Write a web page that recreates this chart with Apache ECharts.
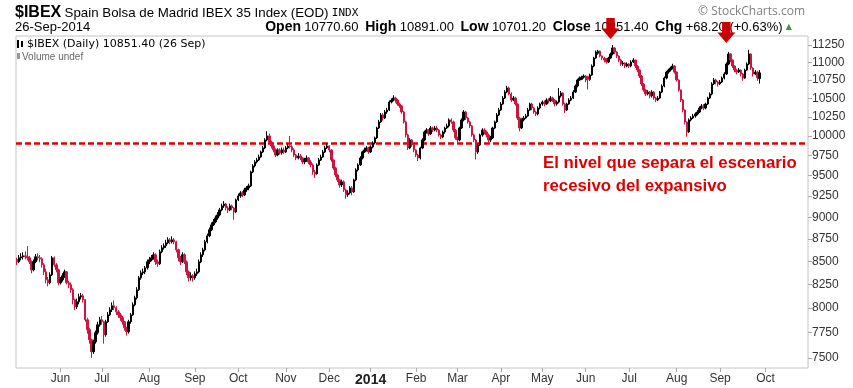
<!DOCTYPE html>
<html><head><meta charset="utf-8">
<script src="https://cdn.jsdelivr.net/npm/echarts@6/dist/echarts.min.js"></script>
<style>html,body{margin:0;padding:0;background:#fff}#c{width:853px;height:388px}</style>
</head><body><div id="c"></div>
<script>
// ---- axis / category definition ----
const startDate = '2013-05-03';
const endDate = '2014-10-29';
const holidays = ['2013-12-25','2013-12-26','2014-01-01','2014-04-18','2014-04-21','2014-05-01'];
const yTicks = [7500,7750,8000,8250,8500,8750,9000,9250,9500,9750,10000,10250,10500,10750,11000,11250];
const monthNames = ['Jan','Feb','Mar','Apr','May','Jun','Jul','Aug','Sep','Oct','Nov','Dec'];

// ---- daily OHLC ----
const opens = [
8520,8495,8539,8550,8561,8550,8539,8495,8407,8495,
8550,8539,8528,8462,8385,8299,8267,8353,8539,8462,
8407,8267,8299,8342,8385,8267,8246,8192,8087,8014,
8066,8118,8129,8087,7880,7779,7679,7561,7659,7749,
7829,7880,7860,7729,7860,7931,7983,8025,8004,7962,
7931,7901,7860,7799,7759,7860,7931,8035,8108,8192,
8320,8374,8385,8429,8495,8517,8539,8572,8495,8473,
8606,8650,8673,8706,8740,8718,8740,8718,8628,8539,
8495,8572,8495,8385,8320,8342,8320,8364,8385,8495,
8572,8628,8718,8785,8854,8911,8946,8992,9027,9086,
9133,9156,9109,9086,9133,9109,9062,9204,9252,9288,
9264,9324,9348,9373,9544,9619,9668,9693,9731,9794,
9845,9948,10000,9922,9871,9820,9756,9820,9782,9820,
9794,9845,9871,9860,9820,9756,9718,9744,9718,9668,
9693,9718,9668,9631,9544,9520,9631,9693,9731,9794,
9845,9871,9820,9693,9594,9507,9446,9385,9422,9324,
9264,9288,9348,9300,9446,9569,9631,9718,9794,9820,
9845,9794,9858,9910,9974,10103,10183,10275,10235,10315,
10341,10449,10476,10503,10476,10422,10395,10315,10183,10013,
9845,9948,9884,9820,9756,9718,9845,9948,10051,10077,
10026,10103,10077,10103,10077,10013,9987,10051,10103,10130,
10209,10183,10077,9974,9948,10103,10209,10315,10235,10183,
10130,10013,9948,9794,9884,10013,10077,10051,10013,9948,
9974,10103,10183,10275,10341,10422,10503,10585,10640,10558,
10476,10503,10422,10235,10103,10209,10235,10262,10341,10422,
10368,10315,10288,10368,10422,10449,10422,10476,10463,10503,
10476,10422,10449,10531,10572,10422,10341,10422,10476,10503,
10585,10668,10751,10760,10790,10807,10800,10760,10821,10948,
11062,11130,11160,11091,11062,11033,11005,11062,11119,11206,
11148,11091,11033,10976,10990,10948,10976,10948,11005,11033,
10948,10891,10807,10696,10613,10558,10585,10531,10585,10503,
10476,10503,10585,10668,10779,10863,10891,10919,10948,10863,
10751,10613,10476,10341,10183,10051,10209,10235,10262,10288,
10315,10368,10395,10368,10422,10503,10558,10696,10751,10723,
10696,10723,10779,10835,10976,11119,11033,10948,10891,10863,
10891,10835,10779,10891,10976,11119,10919,10835,10863,10770.6
];
const closes = [
8495,8539,8550,8561,8550,8539,8495,8407,8495,8550,
8539,8528,8462,8385,8299,8267,8353,8539,8462,8407,
8267,8299,8342,8385,8267,8246,8192,8087,8014,8066,
8118,8129,8087,7880,7779,7679,7561,7659,7749,7829,
7880,7860,7729,7860,7931,7983,8025,8004,7962,7931,
7901,7860,7799,7759,7860,7931,8035,8108,8192,8320,
8374,8385,8429,8495,8517,8539,8572,8495,8473,8606,
8650,8673,8706,8740,8718,8740,8718,8628,8539,8495,
8572,8495,8385,8320,8342,8320,8364,8385,8495,8572,
8628,8718,8785,8854,8911,8946,8992,9027,9086,9133,
9156,9109,9086,9133,9109,9062,9204,9252,9288,9264,
9324,9348,9373,9544,9619,9668,9693,9731,9794,9845,
9948,10000,9922,9871,9820,9756,9820,9782,9820,9794,
9845,9871,9860,9820,9756,9718,9744,9718,9668,9693,
9718,9668,9631,9544,9520,9631,9693,9731,9794,9845,
9871,9820,9693,9594,9507,9446,9385,9422,9324,9264,
9288,9348,9300,9446,9569,9631,9718,9794,9820,9845,
9794,9858,9910,9974,10103,10183,10275,10235,10315,10341,
10449,10476,10503,10476,10422,10395,10315,10183,10013,9845,
9948,9884,9820,9756,9718,9845,9948,10051,10077,10026,
10103,10077,10103,10077,10013,9987,10051,10103,10130,10209,
10183,10077,9974,9948,10103,10209,10315,10235,10183,10130,
10013,9948,9794,9884,10013,10077,10051,10013,9948,9974,
10103,10183,10275,10341,10422,10503,10585,10640,10558,10476,
10503,10422,10235,10103,10209,10235,10262,10341,10422,10368,
10315,10288,10368,10422,10449,10422,10476,10463,10503,10476,
10422,10449,10531,10572,10422,10341,10422,10476,10503,10585,
10668,10751,10779,10790,10807,10751,10760,10821,10948,11062,
11148,11160,11091,11062,11033,11005,11062,11119,11206,11148,
11091,11033,10976,10990,10948,10976,10948,11005,11033,10948,
10891,10807,10696,10613,10558,10585,10531,10585,10503,10476,
10503,10585,10668,10779,10863,10891,10919,10948,10863,10751,
10613,10476,10341,10183,10051,10209,10235,10262,10288,10315,
10368,10395,10368,10422,10503,10558,10696,10751,10723,10696,
10723,10779,10835,10976,11119,11033,10948,10891,10863,10891,
10835,10779,10891,10976,11119,10919,10835,10863,10783,10851.4
];
const lows = [
8460,8480,8510,8520,8520,8510,8470,8370,8390,8480,
8510,8490,8430,8350,8260,8230,8250,8340,8440,8380,
8240,8250,8280,8320,8250,8210,8160,8040,7980,7990,
8040,8090,8060,7860,7740,7640,7500,7540,7640,7730,
7810,7830,7640,7710,7850,7920,7960,7980,7930,7900,
7870,7830,7770,7720,7740,7840,7920,8020,8090,8180,
8300,8350,8360,8410,8470,8500,8520,8460,8440,8460,
8590,8630,8650,8690,8690,8700,8690,8600,8500,8460,
8480,8470,8350,8280,8290,8280,8300,8340,8370,8480,
8550,8610,8700,8770,8840,8900,8930,8970,9010,9070,
9110,9080,9050,9070,9080,8970,9050,9190,9230,9240,
9250,9300,9320,9360,9530,9600,9650,9680,9720,9780,
9830,9930,9900,9840,9790,9730,9740,9760,9760,9770,
9780,9830,9840,9790,9730,9690,9700,9690,9640,9640,
9670,9640,9600,9510,9470,9510,9620,9680,9720,9780,
9830,9790,9670,9570,9480,9420,9350,9360,9300,9220,
9240,9270,9260,9290,9430,9550,9620,9700,9780,9800,
9770,9780,9840,9890,9960,10090,10170,10200,10220,10290,
10330,10430,10460,10440,10400,10370,10290,10160,9980,9820,
9830,9860,9790,9730,9680,9700,9830,9930,10030,10000,
10010,10050,10060,10050,9990,9960,9970,10030,10090,10110,
10160,10050,9950,9910,9930,10090,10190,10210,10160,10100,
9990,9920,9700,9770,9870,9990,10020,9980,9900,9920,
9960,10090,10170,10260,10330,10410,10490,10570,10540,10450,
10460,10400,10210,10060,10090,10190,10220,10250,10330,10340,
10290,10260,10270,10350,10400,10390,10410,10430,10450,10450,
10390,10400,10430,10510,10400,10300,10330,10410,10460,10490,
10570,10650,10740,10750,10770,10720,10620,10740,10810,10930,
11050,11110,11070,11030,11000,10980,10990,11050,11100,11120,
11060,11000,10950,10950,10920,10930,10920,10930,10990,10920,
10860,10780,10670,10590,10530,10540,10500,10510,10480,10450,
10460,10490,10570,10650,10760,10840,10870,10900,10840,10730,
10590,10450,10310,10150,9990,10040,10190,10220,10240,10270,
10300,10350,10340,10350,10410,10490,10540,10680,10690,10660,
10680,10710,10760,10820,10960,11000,10920,10860,10830,10850,
10800,10740,10770,10880,10960,10890,10800,10820,10740,10701.2
];
const highs = [
8540,8570,8590,8600,8610,8670,8560,8510,8520,8580,
8590,8570,8545,8480,8420,8330,8380,8560,8555,8480,
8420,8330,8370,8410,8395,8290,8270,8210,8100,8100,
8150,8160,8150,8095,7900,7800,7690,7680,7770,7860,
7910,7920,7870,7880,7960,8010,8060,8080,8020,7980,
7950,7920,7870,7810,7880,7950,8060,8130,8220,8340,
8400,8420,8450,8520,8550,8570,8600,8590,8520,8630,
8680,8700,8740,8770,8760,8780,8760,8730,8640,8560,
8600,8590,8510,8400,8380,8360,8390,8420,8520,8600,
8650,8740,8810,8880,8940,8980,9020,9060,9110,9160,
9190,9170,9130,9160,9150,9120,9220,9280,9310,9310,
9350,9370,9400,9560,9640,9690,9720,9760,9810,9870,
9970,10060,10030,9940,9890,9840,9840,9840,9850,9850,
9870,9900,10000,9880,9840,9770,9780,9770,9730,9720,
9750,9730,9690,9650,9570,9650,9720,9760,9820,9870,
9900,9880,9830,9700,9610,9520,9460,9450,9440,9340,
9320,9370,9370,9460,9590,9650,9740,9810,9850,9870,
9860,9880,9930,9990,10120,10210,10300,10300,10340,10370,
10470,10500,10540,10520,10490,10440,10410,10330,10200,10030,
9970,9960,9900,9830,9770,9860,9970,10070,10100,10090,
10130,10120,10130,10130,10090,10030,10070,10120,10160,10230,
10230,10200,10090,9990,10120,10230,10340,10330,10250,10200,
10140,10030,9960,9900,10030,10100,10100,10070,10030,10000,
10120,10200,10300,10370,10450,10530,10610,10670,10660,10580,
10530,10520,10430,10250,10230,10260,10290,10370,10440,10440,
10380,10330,10390,10440,10470,10470,10500,10500,10530,10520,
10490,10470,10640,10600,10580,10440,10440,10500,10530,10610,
10690,10770,10800,10810,10830,10820,10810,10840,10970,11080,
11170,11180,11170,11100,11080,11060,11080,11140,11250,11220,
11160,11100,11050,11020,11000,11000,10990,11030,11060,11040,
10960,10900,10820,10710,10630,10610,10600,10610,10600,10520,
10530,10600,10690,10800,10880,10910,10940,10980,10960,10870,
10760,10620,10490,10350,10190,10230,10260,10290,10310,10340,
10390,10420,10420,10440,10520,10580,10720,10780,10770,10740,
10750,10800,10860,11000,11150,11130,11040,10960,10910,10920,
10900,10850,10910,11000,11180,11130,10930,10890,10880,10891
];
// ---- annotations ----
const refLevel = 9900;
const arrowBars = [287, 343];
const arrowTips = [11338, 11279];

if (opens.length !== closes.length || lows.length !== closes.length || highs.length !== closes.length) {
  throw new Error('length mismatch ' + [opens.length, closes.length, lows.length, highs.length].join(','));
}

function tradingDays() {
  const out = [];
  let t = Date.parse(startDate + 'T00:00:00Z');
  const end = Date.parse(endDate + 'T00:00:00Z');
  while (t <= end) {
    const d = new Date(t);
    const wd = d.getUTCDay();
    const s = d.toISOString().slice(0, 10);
    if (wd !== 0 && wd !== 6 && holidays.indexOf(s) < 0) out.push(s);
    t += 86400000;
  }
  return out;
}
const categories = tradingDays();
const candle = opens.map((o, i) => [o, closes[i], lows[i], highs[i]]);
function isMonthStart(i) {
  if (i === 0) return false;
  return categories[i].slice(5, 7) !== categories[i - 1].slice(5, 7);
}

const UP = '#000000', DOWN = '#cc1540';
const chart = echarts.init(document.getElementById('c'), null, { renderer: 'canvas' });
chart.setOption({
  animation: false,
  backgroundColor: '#fff',
  grid: { left: 16, right: 45, top: 36, bottom: 20, show: true, borderColor: '#c4c4c4', borderWidth: 1, backgroundColor: 'transparent' },
  xAxis: {
    type: 'category', data: categories, boundaryGap: true,
    axisLine: { show: false },
    axisTick: { show: true, interval: (i) => isMonthStart(i), alignWithLabel: true, length: 4, lineStyle: { color: '#aaa' } },
    axisLabel: {
      interval: (i) => isMonthStart(i),
      formatter: (v) => { const m = +v.slice(5, 7); return m === 1 ? '{y|' + v.slice(0, 4) + '}' : monthNames[m - 1]; },
      fontFamily: 'Liberation Sans Narrow, Liberation Sans, Arial', fontSize: 12, color: '#333', margin: 5,
      rich: { y: { fontWeight: 'bold', fontSize: 14, fontFamily: 'Liberation Sans Narrow, Liberation Sans, Arial', color: '#222' } }
    },
    splitLine: { show: false }
  },
  yAxis: {
    type: 'log', position: 'right', min: 7403, max: 11382, scale: true,
    axisLine: { show: false },
    axisTick: { show: true, customValues: yTicks, length: 4, lineStyle: { color: '#aaa' } },
    axisLabel: { customValues: yTicks, formatter: (v) => String(Math.round(v)), color: '#333', fontSize: 12, margin: 4, fontFamily: 'Liberation Sans, Arial' },
    splitLine: { show: false }
  },
  series: [{
    type: 'candlestick', data: candle, barWidth: 1.9,
    itemStyle: { color: UP, color0: DOWN, borderColor: UP, borderColor0: DOWN, borderWidth: 1 },
    markLine: {
      silent: true, symbol: ['none', 'none'], animation: false,
      data: [{ yAxis: refLevel }],
      lineStyle: { color: '#e00000', type: [6, 3], width: 2.5 },
      label: { show: false }
    },
    markPoint: {
      silent: true, animation: false,
      symbol: 'path://M4.5,0 L12.5,0 L12.5,10 L17,10 L8.5,20 L0,10 L4.5,10 Z',
      symbolSize: [18, 21], symbolOffset: [0, '-50%'],
      itemStyle: { color: '#cc0000' },
      label: { show: false },
      data: arrowBars.map((b, k) => ({ coord: [categories[b], arrowTips[k]] }))
    },
    z: 5
  }],
  graphic: [
    { type: 'text', x: 15, y: 13, z: 1, style: {
      text: '{a|$IBEX} {b|Spain Bolsa de Madrid IBEX 35 Index (EOD)} {c|INDX}', verticalAlign: 'middle',
      rich: {
        a: { fontSize: 16, fontWeight: 'bold', fontFamily: 'Liberation Sans, Arial', fill: '#000' },
        b: { fontSize: 13.3, fontFamily: 'Liberation Sans, Arial', fill: '#000' },
        c: { fontSize: 11, fontFamily: 'DejaVu Sans Mono, monospace', fill: '#000' }
      } } },
    { type: 'text', x: 15, y: 27, z: 1, style: { text: '26-Sep-2014', verticalAlign: 'middle', font: '13px "Liberation Sans", Arial', fill: '#000' } },
    { type: 'text', x: 792, y: 27, z: 1, style: {
      text: '{b|Open} {n|10770.60}  {b|High} {n|10891.00}  {b|Low} {n|10701.20}  {b|Close} {n|10851.40}  {b|Chg} {n|+68.20 (+0.63%)} {g|▲}',
      align: 'right', verticalAlign: 'middle',
      rich: {
        b: { fontSize: 14, fontWeight: 'bold', fontFamily: 'Liberation Sans, Arial', fill: '#000' },
        n: { fontSize: 13, fontFamily: 'Liberation Sans, Arial', fill: '#000' },
        g: { fontSize: 8, fill: '#3a9a3a', fontFamily: 'DejaVu Sans' }
      } } },
    { type: 'text', x: 805, y: 12, z: 1, style: { text: '© StockCharts.com', align: 'right', verticalAlign: 'middle', font: '12px "Open Sans", Arial', fill: '#808080' } },
    { type: 'rect', z: 1, shape: { x: 17, y: 40, width: 2, height: 8 }, style: { fill: '#000' } },
    { type: 'rect', z: 1, shape: { x: 21, y: 41, width: 2, height: 6 }, style: { fill: '#000' } },
    { type: 'text', x: 27, y: 44, z: 1, style: { text: '$IBEX (Daily) 10851.40 (26 Sep)', verticalAlign: 'middle', font: '11px "DejaVu Sans"', fill: '#000' } },
    { type: 'rect', z: 1, shape: { x: 17, y: 53, width: 3, height: 6 }, style: { fill: '#999' } },
    { type: 'text', x: 22, y: 57, z: 1, style: { text: 'Volume undef', verticalAlign: 'middle', font: '10px "Liberation Sans", Arial', fill: '#666' } },
    { type: 'text', x: 543, y: 163, z: 6, style: { text: 'El nivel que separa el escenario', verticalAlign: 'middle', font: 'bold 16.8px "Liberation Sans", Arial', fill: '#e00000' } },
    { type: 'text', x: 543, y: 186, z: 6, style: { text: 'recesivo del expansivo', verticalAlign: 'middle', font: 'bold 16.8px "Liberation Sans", Arial', fill: '#e00000' } }
  ]
});
</script></body></html>
